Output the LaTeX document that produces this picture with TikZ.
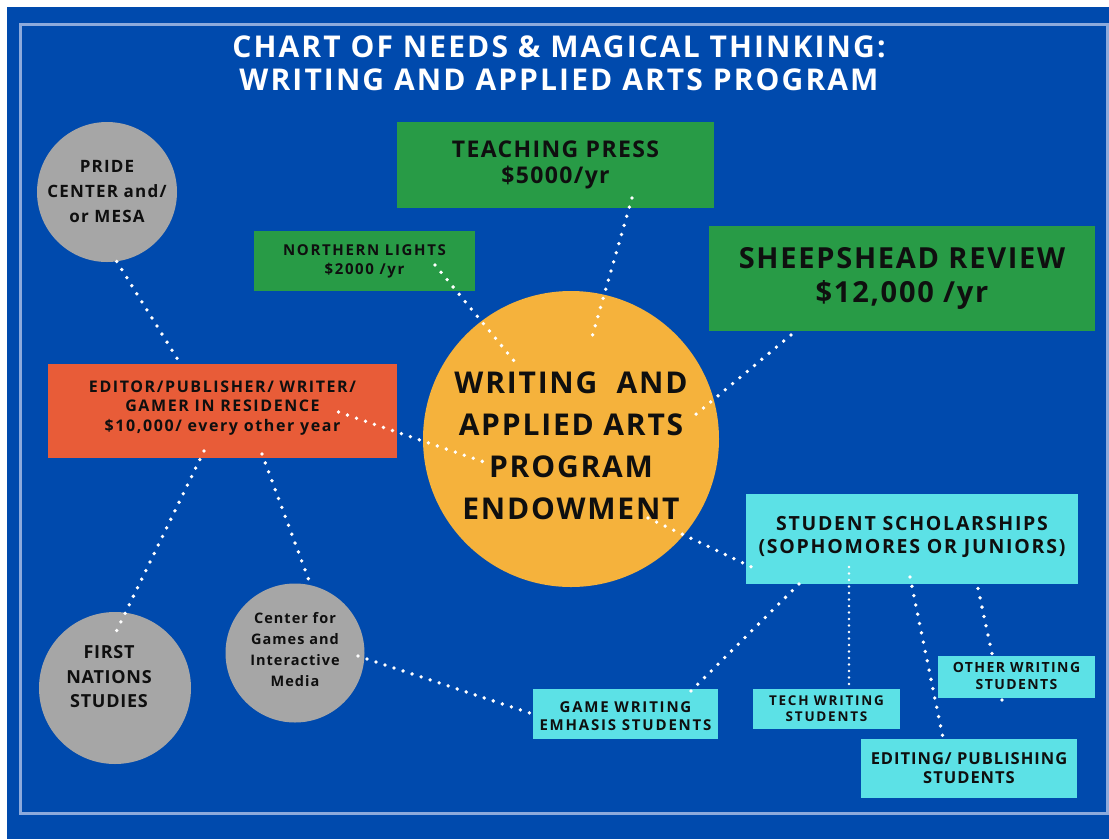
\documentclass[tikz,border=0pt]{standalone}
\usepackage{fontspec}
\setmainfont{Open Sans}
\usetikzlibrary{calc}
\pgfdeclarelayer{back}
\pgfdeclarelayer{bg}
\pgfsetlayers{back,bg,main}
\definecolor{bgblue}{RGB}{0,74,173}
\definecolor{framec}{RGB}{140,170,220}
\definecolor{grn}{RGB}{40,155,70}
\definecolor{gold}{RGB}{245,178,60}
\definecolor{redor}{RGB}{232,92,56}
\definecolor{gry}{RGB}{166,166,166}
\definecolor{cyn}{RGB}{92,225,230}
\definecolor{txt}{RGB}{15,15,15}
\newcommand{\fsz}[3]{\fontsize{#1}{#2}\selectfont\bfseries\addfontfeatures{LetterSpace=#3}}
\begin{document}
\begin{tikzpicture}[x=1pt,y=-1pt,
  every node/.style={inner sep=0pt, align=center, text=txt},
  circ/.style={circle, fill=gry, minimum size=#1},
  dotline/.style={draw=white, line width=3.8pt, line cap=round, dash pattern=on 0pt off 9.5pt},
  smalldot/.style={draw=white, line width=2.6pt, line cap=round, dash pattern=on 0pt off 6.5pt}]
\begin{pgfonlayer}{back}
\useasboundingbox (0,0) rectangle (1109,839);
\fill[white] (0,0) rectangle (1109,839);
\fill[bgblue] (7,7) rectangle (1109,839);
\draw[framec, line width=3pt] (20,24) rectangle (1107,813);
\end{pgfonlayer}

\node[text=white, font=\fsz{30}{33}{7}] (title) at (559,63) {CHART OF NEEDS \& MAGICAL THINKING:\\WRITING AND APPLIED ARTS PROGRAM};

% circles
\node[circ=140pt, font=\fsz{17}{25}{7}] (pride) at (107,192) {PRIDE\\CENTER and/\\or MESA};
\node[circ=152pt, label={[yshift=11pt, xshift=-6pt, font=\fsz{18}{24.5}{4}]center:{FIRST\\NATIONS\\STUDIES}}] (firstn) at (115,688) {};
\node[circ=139pt, label={[yshift=3.5pt, font=\fsz{14.5}{21}{7}]center:{Center for\\Games and\\Interactive\\Media}}] (cgames) at (295,653) {};
\node[circle, fill=gold, minimum size=296pt, label={[yshift=-7pt, font=\fsz{30}{42}{6}]center:{WRITING\ \ AND\\APPLIED ARTS\\PROGRAM\\ENDOWMENT}}] (endow) at (571,439) {};

% boxes
\node[rectangle, fill=grn, minimum width=317pt, minimum height=86pt, font=\fsz{23}{26}{6}] (teach) at (555.5,165) {TEACHING PRESS\\\$5000/yr};
\node[rectangle, fill=grn, minimum width=221pt, minimum height=60pt, font=\fsz{15}{19}{11}] (north) at (364.5,261) {NORTHERN LIGHTS\\\$2000 /yr};
\node[rectangle, fill=grn, minimum width=386pt, minimum height=105pt, font=\fsz{29}{34}{6}] (sheep) at (902,278.5) {SHEEPSHEAD REVIEW\\\$12,000 /yr};
\node[rectangle, fill=redor, minimum width=349pt, minimum height=94pt, label={[yshift=3pt, font=\fsz{16}{19.5}{10}]center:{EDITOR/PUBLISHER/ WRITER/\\GAMER IN RESIDENCE\\\$10,000/ every other year}}] (editor) at (222.5,411) {};
\node[rectangle, fill=cyn, minimum width=332pt, minimum height=90pt, label={[yshift=2.5pt, font=\fsz{19.5}{23}{9}]center:{STUDENT SCHOLARSHIPS\\(SOPHOMORES OR JUNIORS)}}] (schol) at (912,539) {};
\node[rectangle, fill=cyn, minimum width=185pt, minimum height=50pt, label={[yshift=-2pt, font=\fsz{15}{18}{12}]center:{GAME WRITING\\EMHASIS STUDENTS}}] (gamew) at (625.5,714) {};
\node[rectangle, fill=cyn, minimum width=147pt, minimum height=40pt, font=\fsz{13.5}{16}{13}] (techw) at (826.5,709) {TECH WRITING\\STUDENTS};
\node[rectangle, fill=cyn, minimum width=157pt, minimum height=42pt, label={[yshift=1.5pt, font=\fsz{14}{17}{10}]center:{OTHER WRITING\\STUDENTS}}] (other) at (1016.5,677) {};
\node[rectangle, fill=cyn, minimum width=216pt, minimum height=59pt, font=\fsz{16.5}{19}{6}] (editing) at (969,768.5) {EDITING/ PUBLISHING\\STUDENTS};

% connector passing behind the Other box
\begin{pgfonlayer}{bg}
\path[dotline] ($(other)+(-14.5,23)$) -- ($(schol)+(62,31)$);
\end{pgfonlayer}

% connectors
\path[dotline] (pride.-82) -- ([xshift=-42pt]editor.north);
\path[dotline] ($(editor)+(116,1)$) -- ($(endow)+(-84,24)$);
\path[dotline] ($(editor)+(-18.5,40)$) -- ($(firstn)+(1,-56)$);
\path[dotline] ($(editor)+(39.5,43)$) -- (cgames.77);
\path[dotline] ($(cgames)+(63,3)$) -- (gamew.west);
\path[dotline] ($(north)+(70.5,4)$) -- ($(endow)+(-56,-77)$);
\path[dotline] ($(teach)+(76.5,33)$) -- ($(endow)+(19,-95)$);
\path[dotline] ($(sheep)+(-111,56.5)$) -- ($(endow)+(124,-24)$);
\path[dotline] ($(endow)+(77,79)$) -- ($(schol)+(-154,31)$);
\path[dotline] ($(schol)+(-113,45)$) -- ($(gamew)+(65.5,-23)$);
\path[smalldot] ($(schol)+(-63,28)$) -- ($(techw)+(22.5,-23)$);
\path[dotline] ($(schol)+(-2,38)$) -- ($(editing)+(-26,-30.5)$);
\end{tikzpicture}
\end{document}
